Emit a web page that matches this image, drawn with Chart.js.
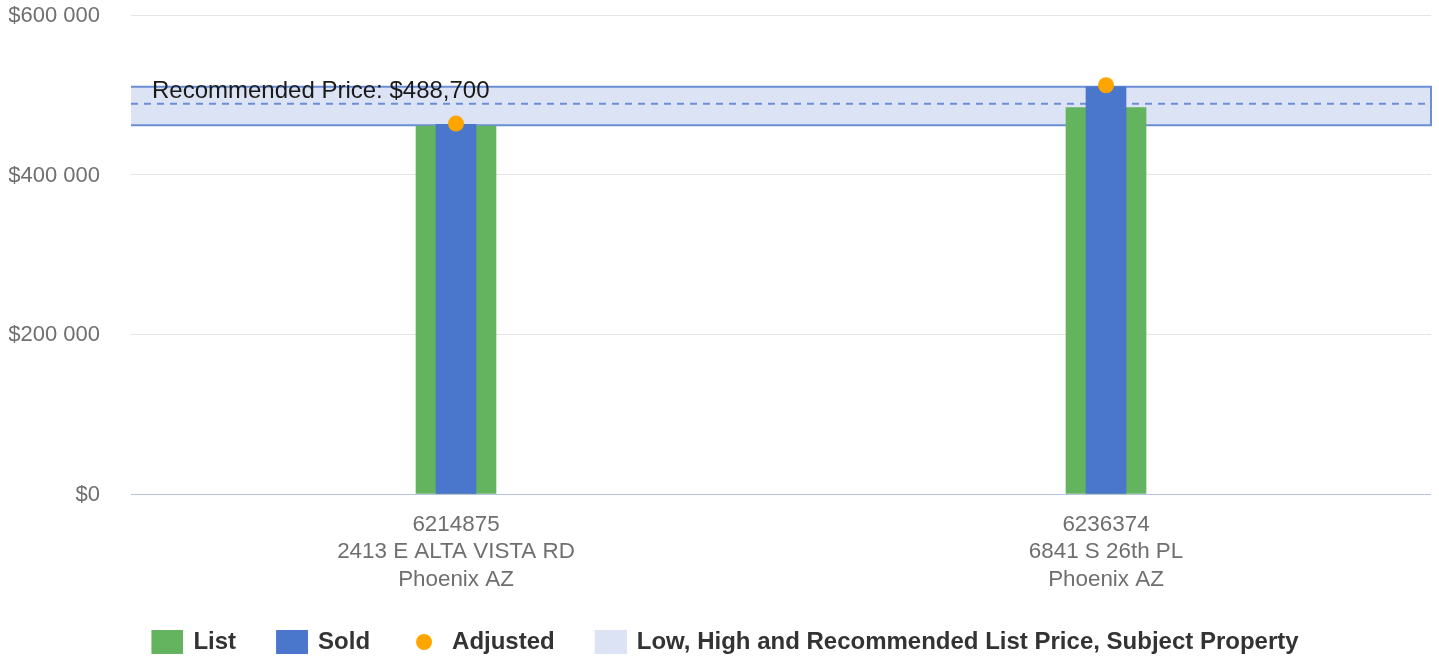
<!DOCTYPE html>
<html>
<head>
<meta charset="utf-8">
<script src="https://cdn.jsdelivr.net/npm/chart.js@4/dist/chart.umd.min.js"></script>
<style>
  html, body { margin: 0; padding: 0; background: #fff; }
  #wrap { width: 1439px; height: 660px; }
</style>
</head>
<body>
<div id="wrap"><canvas id="chart"></canvas></div>
<script>
// --- Data ---
const categories = [
    ['6214875', '2413 E ALTA VISTA RD', 'Phoenix AZ'],
    ['6236374', '6841 S 26th PL', 'Phoenix AZ']
];
const listPrices = [461000, 484000];
const soldPrices = [463000, 510000];
const adjustedPrices = [464000, 512000];
const lowPrice = 462000;
const highPrice = 510000;
const recommendedPrice = 488700;
const yTicks = [0, 200000, 400000, 600000];

const FONT = "'Liberation Sans', Arial, sans-serif";
const GREEN = '#63b35f';
const BLUE = '#4a76cc';
const ORANGE = '#ffa500';
const BAND = '#dbe3f5';
const BAND_LINE = '#6b8fd6';

// --- Legend icons (drawn a bit right of centre so the text gap stays tight) ---
function rectIcon(color) {
    const c = document.createElement('canvas');
    c.width = 38; c.height = 24;
    const g = c.getContext('2d');
    g.fillStyle = color;
    g.fillRect(6, 0, 32, 24);
    return c;
}
function dotIcon(color) {
    const c = document.createElement('canvas');
    c.width = 18; c.height = 18;
    const g = c.getContext('2d');
    g.fillStyle = color;
    g.beginPath();
    g.arc(10, 9, 8, 0, Math.PI * 2);
    g.fill();
    return c;
}
const legendIcons = [rectIcon(GREEN), rectIcon(BLUE), dotIcon(ORANGE), rectIcon(BAND)];

// --- Price band (low / high / recommended) ---
const priceBand = {
    id: 'priceBand',
    beforeDatasetsDraw(chart) {
        const { ctx, chartArea: a, scales: { y } } = chart;
        const top = y.getPixelForValue(highPrice);
        const bot = y.getPixelForValue(lowPrice);
        const mid = y.getPixelForValue(recommendedPrice);
        ctx.save();
        ctx.fillStyle = BAND;
        ctx.fillRect(a.left, top, a.width, bot - top);

        ctx.strokeStyle = BAND_LINE;
        ctx.lineWidth = 2;
        ctx.setLineDash([7, 6]);
        ctx.beginPath();
        ctx.moveTo(a.left, mid);
        ctx.lineTo(a.right, mid);
        ctx.stroke();

        ctx.setLineDash([]);
        ctx.beginPath();
        ctx.moveTo(a.left, top);
        ctx.lineTo(a.right, top);
        ctx.lineTo(a.right, bot);
        ctx.lineTo(a.left, bot);
        ctx.stroke();

        ctx.fillStyle = '#1a1a1a';
        ctx.font = '24px ' + FONT;
        ctx.textBaseline = 'alphabetic';
        ctx.fillText('Recommended Price: $' + recommendedPrice.toLocaleString('en-US'), a.left + 21, mid - 6);
        ctx.restore();
    }
};

// nudge the legend row a little to the right, as in the original layout
const legendShift = {
    id: 'legendShift',
    afterLayout(chart) {
        chart.legend.left += 3;
        chart.legend.right += 3;
    }
};

new Chart(document.getElementById('chart'), {
    type: 'bar',
    data: {
        labels: categories,
        datasets: [
            { label: 'List', data: listPrices, backgroundColor: GREEN, barThickness: 80, grouped: false, order: 2 },
            { label: 'Sold', data: soldPrices, backgroundColor: BLUE, barThickness: 40, grouped: false, order: 1 },
            {
                type: 'line', label: 'Adjusted', data: adjustedPrices, showLine: false,
                pointRadius: 8, pointHoverRadius: 8, pointBorderWidth: 0,
                pointBackgroundColor: ORANGE, backgroundColor: ORANGE, borderColor: ORANGE, order: 0
            },
            { label: 'Low, High and Recommended List Price, Subject Property', data: [], backgroundColor: BAND, grouped: false, order: 3 }
        ]
    },
    options: {
        responsive: true,
        maintainAspectRatio: false,
        animation: false,
        layout: { padding: { left: 9, right: 8, top: 15, bottom: -4 } },
        scales: {
            x: {
                grid: { display: false, drawTicks: false },
                border: { display: false },
                ticks: { color: '#6f6f6f', font: { family: FONT, size: 22.4, lineHeight: 1.228 }, padding: 17 },
                afterFit: s => { s.height = 100; }
            },
            y: {
                min: 0,
                max: 600000,
                afterBuildTicks: s => { s.ticks = yTicks.map(v => ({ value: v })); },
                afterFit: s => { s.width = 122; s.paddingTop = 0; },
                grid: {
                    drawTicks: false,
                    color: c => c.tick && c.tick.value === 0 ? '#b5c3de' : '#e5e5e5'
                },
                border: { display: false },
                ticks: {
                    color: '#6f6f6f',
                    padding: 31,
                    labelOffset: 1,
                    font: { family: FONT, size: 22 },
                    callback: v => '$' + v.toLocaleString('en-US').replace(/,/g, ' ')
                }
            }
        },
        plugins: {
            tooltip: { enabled: false },
            legend: {
                position: 'bottom',
                labels: {
                    usePointStyle: true,
                    pointStyleWidth: 34,
                    boxHeight: 24,
                    padding: 36,
                    color: '#333333',
                    font: { family: FONT, size: 24, weight: 'bold' },
                    generateLabels(chart) {
                        const items = Chart.defaults.plugins.legend.labels.generateLabels(chart);
                        items.forEach(it => { it.pointStyle = legendIcons[it.datasetIndex]; });
                        return items;
                    },
                    sort: (a, b) => a.datasetIndex - b.datasetIndex
                }
            }
        }
    },
    plugins: [priceBand, legendShift]
});
</script>
</body>
</html>
